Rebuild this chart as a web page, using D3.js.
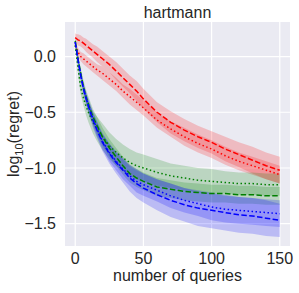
<!DOCTYPE html>
<html>
<head>
<meta charset="utf-8">
<script src="https://cdn.jsdelivr.net/npm/d3@7"></script>
<style>
  body { margin: 0; background: #fff; }
  text { font-family: "Liberation Sans", Arial, sans-serif; fill: #262626; }
</style>
</head>
<body>
<div id="chart"></div>
<script>
// number of queries at which the curves were read
var queries = [0, 1, 2, 4, 6, 8, 10, 13, 16, 20, 25, 30, 35, 40, 45, 50, 60, 70, 80, 90, 100, 110, 120, 130, 140, 150];

// mean log10(regret), one array per curve
var redDashed = [0.17, 0.16, 0.15, 0.14, 0.12, 0.10, 0.08, 0.05, 0.02, -0.02, -0.07, -0.13, -0.19, -0.25, -0.31, -0.38, -0.50, -0.59, -0.66, -0.72, -0.77, -0.83, -0.88, -0.93, -0.98, -1.02];
var redDotted = [0.10, 0.07, 0.04, 0.00, -0.02, -0.04, -0.06, -0.09, -0.12, -0.15, -0.20, -0.25, -0.31, -0.36, -0.41, -0.46, -0.57, -0.65, -0.72, -0.78, -0.83, -0.89, -0.94, -0.98, -1.02, -1.06];
var greenDashed = [0.14, 0.06, -0.02, -0.15, -0.27, -0.36, -0.44, -0.54, -0.62, -0.72, -0.82, -0.90, -0.98, -1.05, -1.09, -1.12, -1.17, -1.19, -1.21, -1.22, -1.23, -1.23, -1.24, -1.24, -1.25, -1.25];
var greenDotted = [0.10, 0.00, -0.10, -0.28, -0.37, -0.45, -0.51, -0.59, -0.65, -0.72, -0.80, -0.86, -0.91, -0.95, -0.98, -1.00, -1.04, -1.07, -1.09, -1.11, -1.12, -1.13, -1.14, -1.14, -1.15, -1.15];
var blueDashed = [0.13, 0.05, -0.03, -0.17, -0.29, -0.38, -0.46, -0.57, -0.66, -0.77, -0.87, -0.95, -1.02, -1.09, -1.14, -1.18, -1.24, -1.29, -1.33, -1.36, -1.38, -1.40, -1.42, -1.43, -1.45, -1.47];
var blueDotted = [0.13, 0.06, -0.02, -0.16, -0.28, -0.37, -0.45, -0.56, -0.65, -0.76, -0.86, -0.94, -1.01, -1.07, -1.12, -1.15, -1.20, -1.25, -1.29, -1.32, -1.35, -1.37, -1.38, -1.39, -1.40, -1.41];

// half width of the shaded band around each curve
var redDashedSd = [0.04, 0.04, 0.05, 0.05, 0.05, 0.06, 0.06, 0.06, 0.07, 0.07, 0.07, 0.08, 0.08, 0.08, 0.09, 0.09, 0.09, 0.10, 0.10, 0.10, 0.10, 0.11, 0.11, 0.12, 0.12, 0.12];
var redDottedSd = [0.04, 0.04, 0.04, 0.04, 0.05, 0.05, 0.05, 0.05, 0.05, 0.06, 0.06, 0.06, 0.06, 0.07, 0.07, 0.07, 0.07, 0.07, 0.08, 0.08, 0.08, 0.08, 0.08, 0.08, 0.08, 0.08];
var greenDashedSd = [0.03, 0.04, 0.04, 0.05, 0.06, 0.06, 0.07, 0.07, 0.08, 0.08, 0.08, 0.08, 0.08, 0.08, 0.08, 0.08, 0.08, 0.08, 0.08, 0.08, 0.08, 0.08, 0.08, 0.08, 0.08, 0.08];
var greenDottedSd = [0.03, 0.04, 0.05, 0.06, 0.07, 0.08, 0.09, 0.10, 0.11, 0.12, 0.12, 0.12, 0.12, 0.12, 0.12, 0.12, 0.12, 0.11, 0.11, 0.11, 0.11, 0.10, 0.10, 0.10, 0.10, 0.10];
var blueDashedSd = [0.03, 0.03, 0.04, 0.05, 0.05, 0.06, 0.06, 0.07, 0.07, 0.08, 0.09, 0.10, 0.11, 0.12, 0.13, 0.13, 0.14, 0.15, 0.15, 0.16, 0.16, 0.16, 0.16, 0.16, 0.16, 0.15];
var blueDottedSd = [0.03, 0.03, 0.04, 0.04, 0.05, 0.05, 0.06, 0.06, 0.07, 0.07, 0.08, 0.08, 0.09, 0.09, 0.10, 0.10, 0.10, 0.11, 0.11, 0.11, 0.12, 0.12, 0.12, 0.12, 0.12, 0.12];

var xTicks = [0, 50, 100, 150];
var yTicks = [0.0, -0.5, -1.0, -1.5];

var curves = [
    { mean: redDashed, sd: redDashedSd, color: "red", dash: "5.5,2.4" },
    { mean: redDotted, sd: redDottedSd, color: "red", dash: "1.5,2.5" },
    { mean: greenDashed, sd: greenDashedSd, color: "green", dash: "5.5,2.4" },
    { mean: greenDotted, sd: greenDottedSd, color: "green", dash: "1.5,2.5" },
    { mean: blueDashed, sd: blueDashedSd, color: "blue", dash: "5.5,2.4" },
    { mean: blueDotted, sd: blueDottedSd, color: "blue", dash: "1.5,2.5" }
];

var width = 299,
    height = 293,
    margin = { top: 22, right: 9, bottom: 47, left: 65 },
    w = width - margin.left - margin.right,
    h = height - margin.top - margin.bottom;

var svg = d3.select("#chart")
    .append("svg")
    .attr("width", width)
    .attr("height", height);

var g = svg.append("g")
    .attr("transform", "translate(" + margin.left + "," + margin.top + ")");

var x = d3.scaleLinear().domain([-7.5, 157.5]).range([0, w]);
var y = d3.scaleLinear().domain([-1.70, 0.31]).range([h, 0]);

// background and grid
g.append("rect")
    .attr("width", w)
    .attr("height", h)
    .attr("fill", "#eaeaf2");

g.selectAll(".xgrid")
    .data(xTicks)
    .enter()
    .append("line")
    .attr("x1", function (d) { return x(d); })
    .attr("x2", function (d) { return x(d); })
    .attr("y1", 0)
    .attr("y2", h)
    .attr("stroke", "#fff")
    .attr("stroke-width", 1.2);

g.selectAll(".ygrid")
    .data(yTicks)
    .enter()
    .append("line")
    .attr("x1", 0)
    .attr("x2", w)
    .attr("y1", function (d) { return y(d); })
    .attr("y2", function (d) { return y(d); })
    .attr("stroke", "#fff")
    .attr("stroke-width", 1.2);

g.append("clipPath")
    .attr("id", "clip")
    .append("rect")
    .attr("width", w)
    .attr("height", h);

var plot = g.append("g").attr("clip-path", "url(#clip)");

var area = d3.area()
    .x(function (d) { return x(d.q); })
    .y0(function (d) { return y(d.m - d.s); })
    .y1(function (d) { return y(d.m + d.s); });

var line = d3.line()
    .x(function (d) { return x(d.q); })
    .y(function (d) { return y(d.m); });

curves.forEach(function (c) {
    c.points = queries.map(function (q, i) {
        return { q: q, m: c.mean[i], s: c.sd[i] };
    });
});

curves.forEach(function (c) {
    plot.append("path")
        .attr("d", area(c.points))
        .attr("fill", c.color)
        .attr("fill-opacity", 0.2);
});

curves.forEach(function (c) {
    plot.append("path")
        .attr("d", line(c.points))
        .attr("fill", "none")
        .attr("stroke", c.color)
        .attr("stroke-width", 1.5)
        .attr("stroke-dasharray", c.dash);
});

// axes (no tick marks, seaborn darkgrid look)
var fmt = d3.format(".1f");

g.selectAll(".xlabel")
    .data(xTicks)
    .enter()
    .append("text")
    .attr("x", function (d) { return x(d); })
    .attr("y", h + 18)
    .attr("text-anchor", "middle")
    .style("font-size", "16px")
    .text(function (d) { return d; });

g.selectAll(".ylabel")
    .data(yTicks)
    .enter()
    .append("text")
    .attr("x", -9)
    .attr("y", function (d) { return y(d); })
    .attr("dy", "0.35em")
    .attr("text-anchor", "end")
    .style("font-size", "16px")
    .text(function (d) { return fmt(d); });

svg.append("text")
    .attr("x", margin.left + w / 2)
    .attr("y", 17.5)
    .attr("text-anchor", "middle")
    .style("font-size", "16px")
    .text("hartmann");

svg.append("text")
    .attr("x", margin.left + w / 2)
    .attr("y", 281)
    .attr("text-anchor", "middle")
    .style("font-size", "16px")
    .text("number of queries");

var ylab = svg.append("text")
    .attr("transform", "translate(19," + (margin.top + h / 2) + ") rotate(-90)")
    .attr("text-anchor", "middle")
    .style("font-size", "16px");
ylab.append("tspan").text("log");
ylab.append("tspan").attr("dy", 4).style("font-size", "11px").text("10");
ylab.append("tspan").attr("dy", -4).text("(regret)");
</script>
</body>
</html>
